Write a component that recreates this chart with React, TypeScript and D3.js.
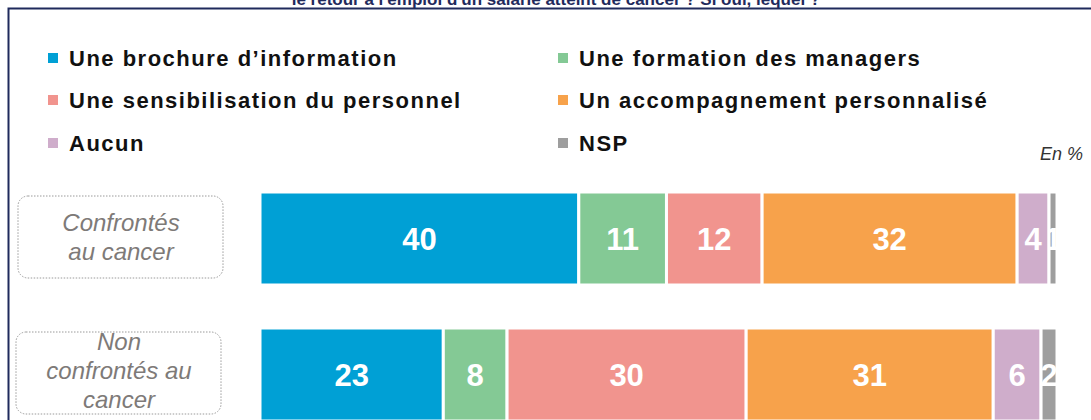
import React from 'react';
import * as d3 from 'd3';

const categories = ['Confrontés au cancer', 'Non confrontés au cancer'];
const categoryLines = [['Confrontés', 'au cancer'], ['Non', 'confrontés au', 'cancer']];
const seriesNames = [
  'Une brochure d\u2019information',
  'Une formation des managers',
  'Une sensibilisation du personnel',
  'Un accompagnement personnalisé',
  'Aucun',
  'NSP',
];
const seriesColors = ['#00A0D5', '#84C995', '#F1948E', '#F7A24B', '#CFADCB', '#9E9E9E'];
const confrontes = [40, 11, 12, 32, 4, 1];
const nonConfrontes = [23, 8, 30, 31, 6, 2];
const rows = [confrontes, nonConfrontes];

const width = 1091;
const height = 420;

const App = () => {
  const x = d3.scaleLinear().domain([0, 100]).range([260, 1057]);
  const y = d3
    .scaleBand<string>()
    .domain(categories)
    .range([192, 421])
    .paddingInner(43 / 136)
    .paddingOuter(0);

  const stack = rows.map((vals) => {
    let acc = 0;
    return vals.map((v) => {
      const s = acc;
      acc += v;
      return [s, acc];
    });
  });

  const legendX = [48, 558];
  const legendY = [58, 100, 143];

  return (
    <svg width={width} height={height} style={{ position: 'absolute', left: 0, top: 0 }}>
      <defs>
        {stack.map((segs, r) =>
          segs.map((d, i) => (
            <clipPath id={`c${r}-${i}`} key={`${r}-${i}`}>
              <rect x={x(d[0])} y={y(categories[r])} width={x(d[1]) - x(d[0])} height={y.bandwidth()} />
            </clipPath>
          ))
        )}
      </defs>
      <rect width={width} height={height} fill="#fff" />
      {/* title, cut off at the top as in the source */}
      <text
        x={556}
        y={5}
        textAnchor="middle"
        fontFamily="Arial, Liberation Sans, sans-serif"
        fontWeight="bold"
        fontSize={17}
        fill="#1F2A5C"
      >
        le retour à l'emploi d'un salarié atteint de cancer ? Si oui, lequel ?
      </text>
      {/* frame */}
      <path d={`M8.5,${height} V8.5 H${width}`} fill="none" stroke="#1F2A5C" strokeWidth={2} />

      {/* legend */}
      {seriesNames.map((name, i) => {
        const col = i % 2;
        const row = Math.floor(i / 2);
        return (
          <g key={name} transform={`translate(${legendX[col]},${legendY[row]})`}>
            <rect x={0} y={-5} width={10} height={10} fill={seriesColors[i]} />
            <text
              x={21}
              y={8}
              fontFamily="Arial, Liberation Sans, sans-serif"
              fontWeight="bold"
              fontSize={22}
              letterSpacing={1.5}
              fill="#111"
            >
              {name}
            </text>
          </g>
        );
      })}
      <text
        x={1083}
        y={160}
        textAnchor="end"
        fontFamily="Arial, Liberation Sans, sans-serif"
        fontStyle="italic"
        fontSize={18}
        fill="#333"
      >
        En %
      </text>

      {/* category boxes */}
      {categories.map((c, r) => {
        const top = y(c)! + 4;
        const lines = categoryLines[r];
        const lh = 29;
        const cy = top + 41;
        return (
          <g key={c}>
            <rect
              x={18 - r * 2}
              y={top}
              width={205}
              height={82}
              rx={10}
              fill="none"
              stroke="#9a9a9a"
              strokeDasharray="1.5,1.5"
              strokeWidth={1}
            />
            {lines.map((l, k) => (
              <text
                key={k}
                x={121 - r * 2}
                y={cy + (k - (lines.length - 1) / 2) * lh + 8 - r * 2}
                textAnchor="middle"
                fontFamily="Arial, Liberation Sans, sans-serif"
                fontStyle="italic"
                fontSize={24}
                fill="#7E7A78"
              >
                {l}
              </text>
            ))}
          </g>
        );
      })}

      {/* bars */}
      {stack.map((segs, r) =>
        segs.map((d, i) => {
          const x0 = x(d[0]);
          const x1 = x(d[1]);
          const y0 = y(categories[r])!;
          return (
            <g key={`${r}-${i}`}>
              <rect
                x={x0}
                y={y0}
                width={x1 - x0}
                height={y.bandwidth()}
                fill={seriesColors[i]}
                stroke="#fff"
                strokeWidth={3}
              />
              <text
                clipPath={`url(#c${r}-${i})`}
                x={(x0 + x1) / 2}
                y={y0 + y.bandwidth() / 2 + 11}
                textAnchor="middle"
                fontFamily="Arial, Liberation Sans, sans-serif"
                fontWeight="bold"
                fontSize={31}
                fill="#fff"
              >
                {rows[r][i]}
              </text>
            </g>
          );
        })
      )}
    </svg>
  );
};

export default App;
